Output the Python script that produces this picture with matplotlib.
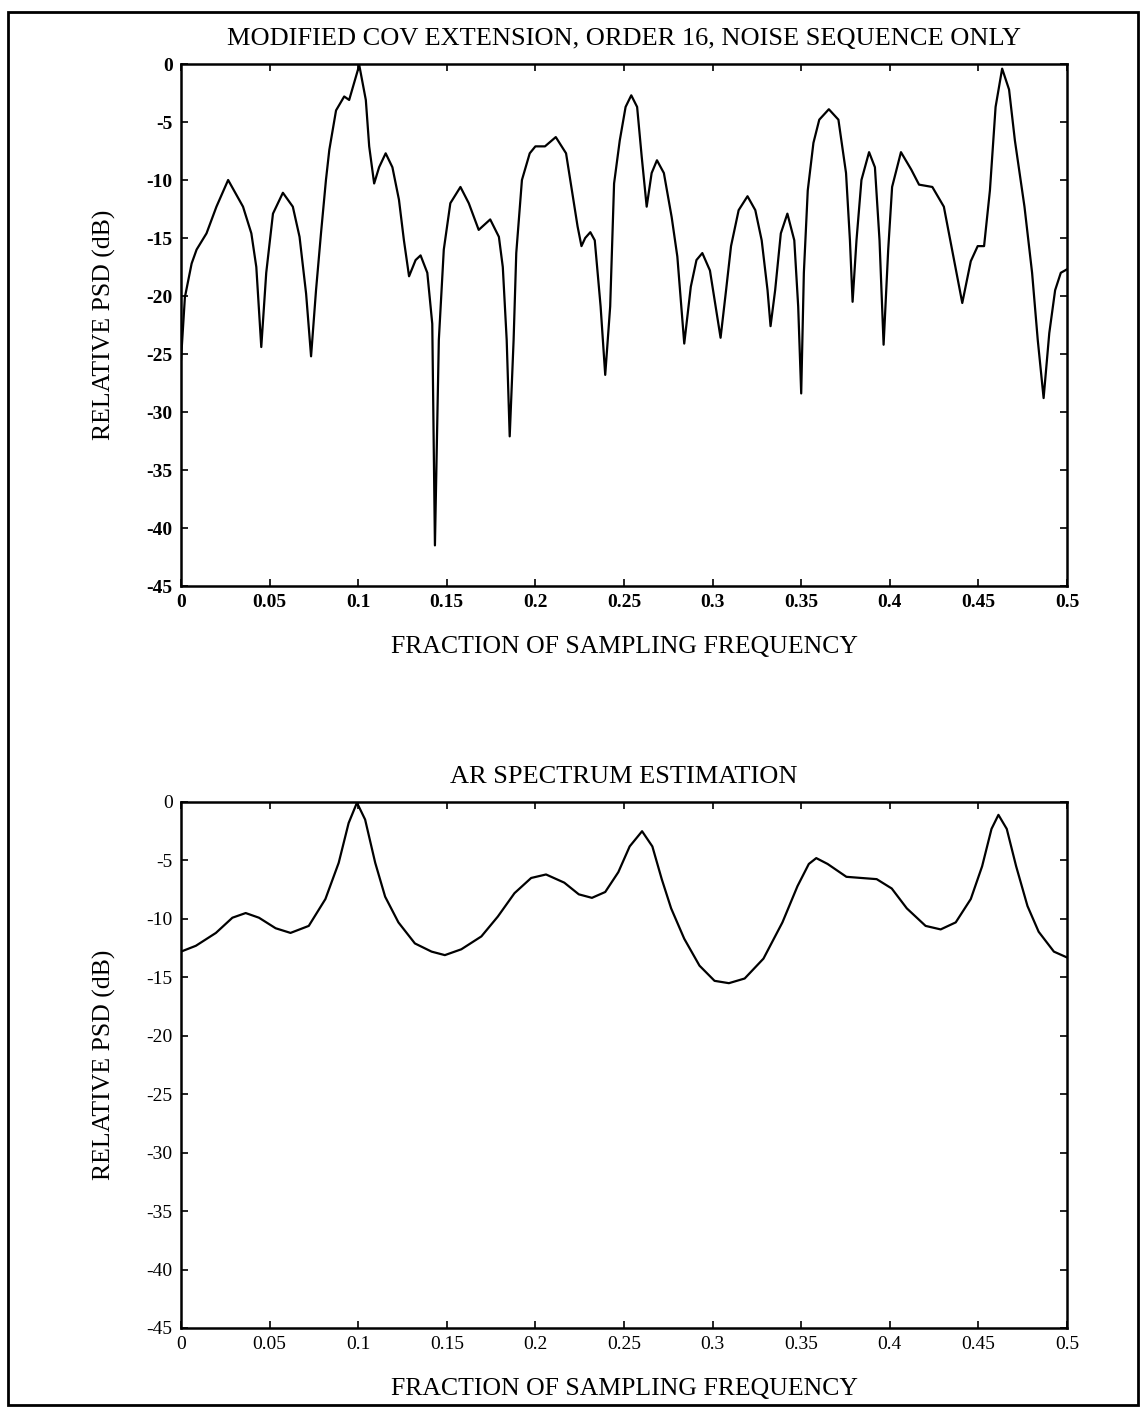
import numpy as np
import matplotlib
matplotlib.use('Agg')
import matplotlib.pyplot as plt
from matplotlib.patches import Rectangle

# --- data ---
# modified covariance extension, order 16 (noise only)
cov_freq = [0.0, 0.0022, 0.006, 0.0088, 0.0144, 0.020, 0.0266, 0.035, 0.0397, 0.0425,
            0.0453, 0.0481, 0.0519, 0.0575, 0.0631, 0.0669, 0.0706, 0.0734, 0.0762, 0.079,
            0.0818, 0.0837, 0.0875, 0.0921, 0.0949, 0.1006, 0.1043, 0.1062, 0.109, 0.1118,
            0.1155, 0.1193, 0.123, 0.1258, 0.1287, 0.1324, 0.1352, 0.139, 0.1418, 0.1433,
            0.1455, 0.1483, 0.152, 0.1577, 0.1624, 0.168, 0.1745, 0.1794, 0.1816, 0.1838,
            0.1855, 0.1877, 0.1892, 0.1924, 0.1968, 0.2, 0.2054, 0.2115, 0.2173, 0.2206,
            0.2238, 0.226, 0.2281, 0.231, 0.2335, 0.2368, 0.2394, 0.2422, 0.2444, 0.2476,
            0.2509, 0.2541, 0.2574, 0.26, 0.2628, 0.2656, 0.2686, 0.2725, 0.2769, 0.2801,
            0.284, 0.2877, 0.2909, 0.2942, 0.2985, 0.3017, 0.3045, 0.3076, 0.3104, 0.3147,
            0.3197, 0.3241, 0.3277, 0.331, 0.3327, 0.3353, 0.3385, 0.3422, 0.3461, 0.3483,
            0.35, 0.3515, 0.3537, 0.3569, 0.3602, 0.3656, 0.371, 0.3753, 0.3775, 0.379,
            0.3812, 0.384, 0.3883, 0.3916, 0.3942, 0.3965, 0.3991, 0.4013, 0.4063, 0.4121,
            0.4165, 0.424, 0.4305, 0.4359, 0.4409, 0.4457, 0.4496, 0.4532, 0.4565, 0.4597,
            0.4634, 0.4673, 0.4706, 0.476, 0.4803, 0.4835, 0.4868, 0.49, 0.4933, 0.4965, 0.5]
cov_db = [-25.5, -20.1, -17.2, -16.0, -14.6, -12.3, -10.0, -12.3, -14.6, -17.5,
          -24.4, -18.0, -12.9, -11.1, -12.3, -14.9, -19.8, -25.2, -19.5, -14.6,
          -10.0, -7.4, -4.0, -2.8, -3.1, -0.1, -3.1, -7.1, -10.3, -8.9,
          -7.7, -8.9, -11.7, -15.2, -18.3, -16.9, -16.5, -18.0, -22.4, -41.5,
          -23.8, -16.0, -12.0, -10.6, -12.0, -14.3, -13.4, -14.9, -17.5, -23.8,
          -32.1, -23.8, -16.3, -10.0, -7.7, -7.1, -7.1, -6.3, -7.7, -10.9,
          -14.0, -15.7, -15.0, -14.5, -15.2, -20.9, -26.8, -20.9, -10.3, -6.6,
          -3.7, -2.7, -3.7, -8.0, -12.3, -9.4, -8.3, -9.4, -13.2, -16.6,
          -24.1, -19.2, -16.9, -16.3, -17.8, -20.9, -23.6, -19.5, -15.7, -12.6,
          -11.4, -12.6, -15.2, -19.5, -22.6, -19.5, -14.6, -12.9, -15.2, -20.9,
          -28.4, -18.0, -10.9, -6.8, -4.8, -3.9, -4.8, -9.4, -15.2, -20.5,
          -15.2, -10.0, -7.6, -8.9, -15.2, -24.2, -16.0, -10.6, -7.6, -9.1,
          -10.4, -10.6, -12.3, -16.6, -20.6, -17.0, -15.7, -15.7, -10.9, -3.7,
          -0.4, -2.2, -6.6, -12.3, -18.0, -23.8, -28.8, -23.2, -19.5, -18.0, -17.7]

# AR spectrum estimate
ar_freq = [0.0, 0.0084, 0.0197, 0.029, 0.0365, 0.044, 0.0534, 0.0618, 0.0721, 0.0815,
           0.089, 0.0946, 0.0993, 0.1039, 0.1096, 0.1152, 0.1227, 0.132, 0.1414, 0.1489,
           0.1582, 0.1695, 0.1788, 0.1882, 0.1976, 0.206, 0.2163, 0.2245, 0.2319, 0.2394,
           0.2468, 0.2532, 0.2602, 0.266, 0.2713, 0.2766, 0.284, 0.2926, 0.3011, 0.3092,
           0.3181, 0.3287, 0.3394, 0.3479, 0.3543, 0.3585, 0.3649, 0.3755, 0.384, 0.3926,
           0.4011, 0.4096, 0.4202, 0.4287, 0.4372, 0.4457, 0.4521, 0.4574, 0.4613, 0.466,
           0.4713, 0.4777, 0.484, 0.4926, 0.5]
ar_db = [-12.8, -12.3, -11.2, -9.9, -9.5, -9.9, -10.8, -11.2, -10.6, -8.3,
         -5.2, -1.8, -0.06, -1.5, -5.2, -8.1, -10.3, -12.1, -12.8, -13.1,
         -12.6, -11.5, -9.8, -7.8, -6.5, -6.2, -6.9, -7.9, -8.2, -7.7,
         -6.0, -3.8, -2.5, -3.8, -6.6, -9.1, -11.7, -14.0, -15.3, -15.5,
         -15.1, -13.4, -10.3, -7.2, -5.3, -4.8, -5.3, -6.4, -6.5, -6.6,
         -7.4, -9.1, -10.6, -10.9, -10.3, -8.3, -5.5, -2.3, -1.1, -2.3,
         -5.5, -8.9, -11.1, -12.8, -13.3]

x_ticks = [0, 0.05, 0.1, 0.15, 0.2, 0.25, 0.3, 0.35, 0.4, 0.45, 0.5]
x_ticklabels = ['0', '0.05', '0.1', '0.15', '0.2', '0.25', '0.3', '0.35', '0.4', '0.45', '0.5']
y_ticks = [0, -5, -10, -15, -20, -25, -30, -35, -40, -45]
y_ticklabels = ['0', '-5', '-10', '-15', '-20', '-25', '-30', '-35', '-40', '-45']

titles = ['MODIFIED COV EXTENSION, ORDER 16, NOISE SEQUENCE ONLY', 'AR SPECTRUM ESTIMATION']
x_label = 'FRACTION OF SAMPLING FREQUENCY'
y_label = 'RELATIVE PSD (dB)'

plt.rcParams['font.family'] = ['Liberation Serif', 'DejaVu Serif']

W, H = 1143, 1412
fig = plt.figure(figsize=(W / 100, H / 100), dpi=100)

# axes boxes in pixels: left, top, right, bottom
boxes = [(181, 64, 1067, 586), (181, 802, 1067, 1328)]
series = [(cov_freq, cov_db), (ar_freq, ar_db)]
tick_weight = ['bold', 'normal']

for i, ((l, t, r, b), (fx, fy)) in enumerate(zip(boxes, series)):
    ax = fig.add_axes([l / W, 1 - b / H, (r - l) / W, (b - t) / H])
    ax.plot(fx, fy, color='black', linewidth=1.6, solid_joinstyle='round')
    ax.set_xlim(0, 0.5)
    ax.set_ylim(-45, 0)
    ax.set_xticks(x_ticks)
    ax.set_xticklabels(x_ticklabels, fontweight=tick_weight[i])
    ax.set_yticks(y_ticks)
    ax.set_yticklabels(y_ticklabels, fontweight=tick_weight[i])
    ax.tick_params(direction='in', length=5, width=1.2, top=True, right=True,
                   labelsize=14, pad=6)
    for sp in ax.spines.values():
        sp.set_linewidth(1.8)
    ax.set_title(titles[i], fontsize=19, pad=14)
    ax.set_xlabel(x_label, fontsize=18.5, labelpad=18)
    ax.set_ylabel(y_label, fontsize=18.5, labelpad=22)

# page frame
fig.patches.append(Rectangle((8 / W, 1 - 1405 / H), 1130 / W, 1393 / H,
                             transform=fig.transFigure, fill=False,
                             edgecolor='black', linewidth=2))

fig.savefig('out.png', dpi=100)
